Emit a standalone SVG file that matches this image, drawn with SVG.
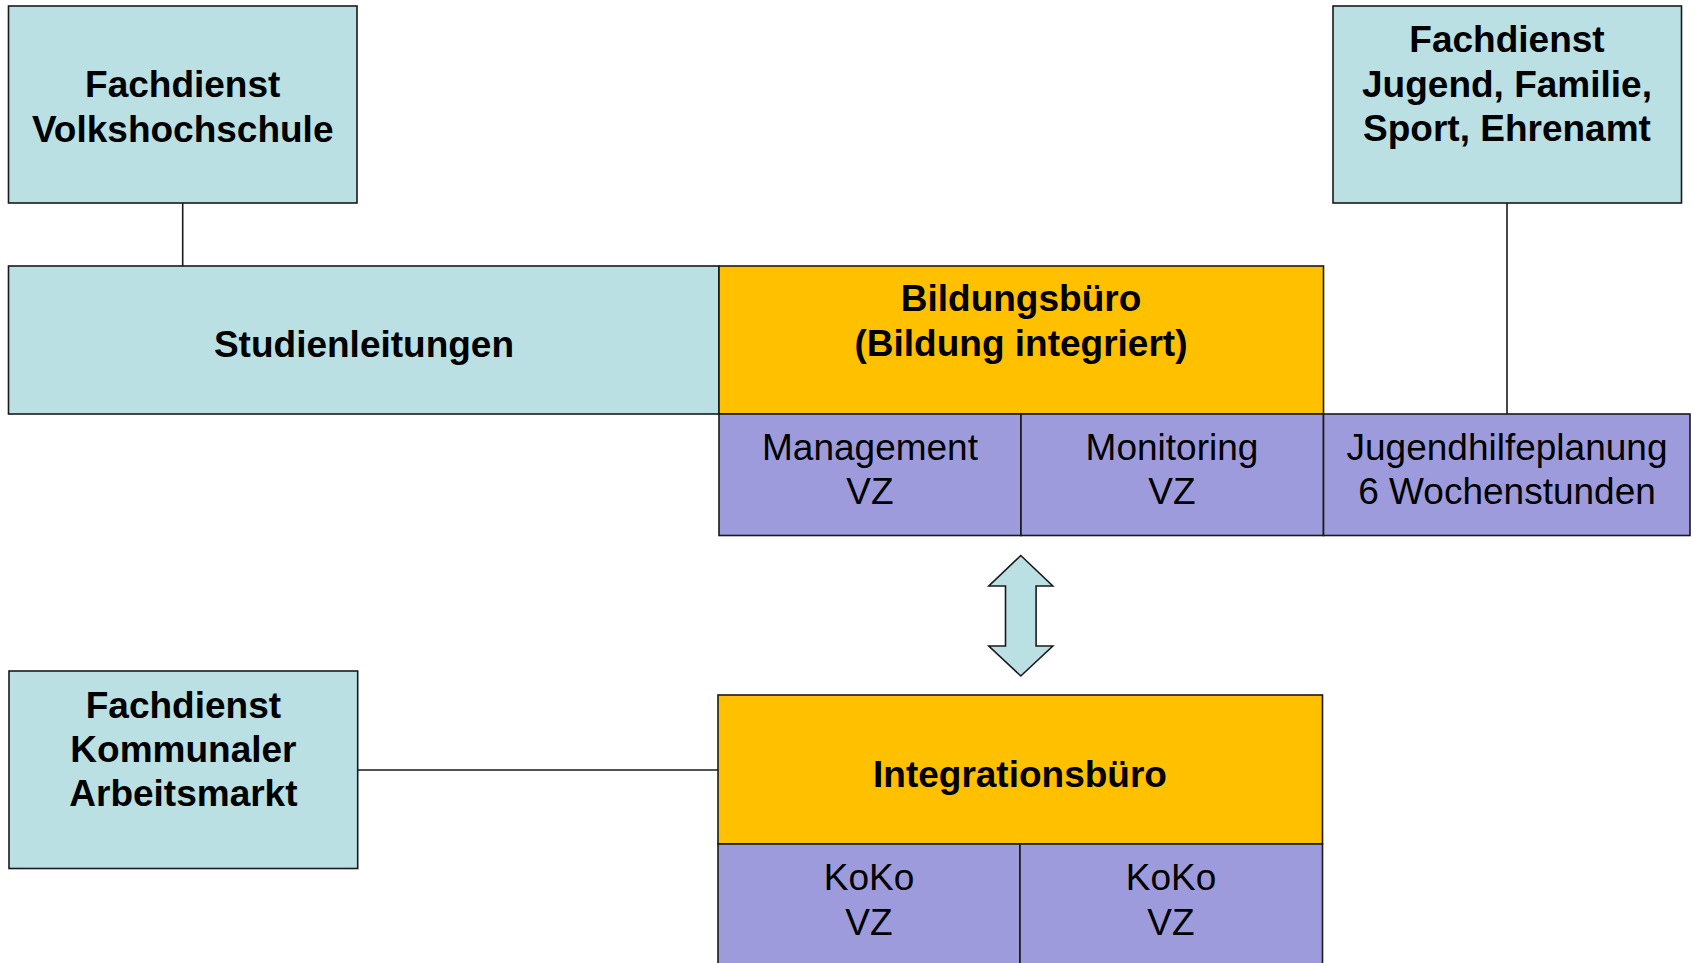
<svg xmlns="http://www.w3.org/2000/svg" width="1694" height="963" viewBox="0 0 1694 963">
<style>
.teal{fill:#BAE0E3;stroke:#1a1a1a;stroke-width:1.6}
.gold{fill:#FFC000;stroke:#1a1a1a;stroke-width:1.6}
.purp{fill:#9E9BDD;stroke:#1a1a1a;stroke-width:1.6}
.b{font-family:"Liberation Sans",Arial,sans-serif;font-weight:bold;font-size:37px;fill:#000;text-anchor:middle}
.r{font-family:"Liberation Sans",Arial,sans-serif;font-size:37px;fill:#000;text-anchor:middle}
.ln{stroke:#1a1a1a;stroke-width:1.6;fill:none}
</style>
<rect width="1694" height="963" fill="#fff"/>
<g id="connectors">
<line class="ln" x1="182.7" y1="203" x2="182.7" y2="266"/>
<line class="ln" x1="1507" y1="203" x2="1507" y2="414"/>
<line class="ln" x1="357.7" y1="770" x2="718" y2="770"/>
<polygon id="double-arrow" points="1020.8,555.5 1052.8,586 1036.1,586 1036.1,646 1052.8,646 1020.8,676 988.8,646 1005.5,646 1005.5,586 988.8,586" fill="#BAE0E3" stroke="#1a1a1a" stroke-width="1.6"/>
</g>
<g id="fd-vhs">
<rect class="teal" x="8.5" y="6" width="348.5" height="197"/>
<text class="b" x="182.7" y="97.3">Fachdienst</text>
<text class="b" x="182.7" y="142.3">Volkshochschule</text>
</g>
<g id="fd-jugend">
<rect class="teal" x="1333" y="6" width="348.5" height="197"/>
<text class="b" x="1507" y="52">Fachdienst</text>
<text class="b" x="1507" y="96.5">Jugend, Familie,</text>
<text class="b" x="1507" y="141">Sport, Ehrenamt</text>
</g>
<g id="studienleitungen">
<rect class="teal" x="8.5" y="266" width="710.5" height="148"/>
<text class="b" x="364" y="356.7">Studienleitungen</text>
</g>
<g id="bildungsbuero">
<rect class="gold" x="719" y="266" width="604.5" height="148"/>
<text class="b" x="1021" y="311">Bildungsbüro</text>
<text class="b" x="1021" y="356">(Bildung integriert)</text>
</g>
<g id="management">
<rect class="purp" x="719" y="414" width="302" height="121.5"/>
<text class="r" x="870" y="460">Management</text>
<text class="r" x="870" y="504.3">VZ</text>
</g>
<g id="monitoring">
<rect class="purp" x="1021" y="414" width="302.5" height="121.5"/>
<text class="r" x="1172" y="460">Monitoring</text>
<text class="r" x="1172" y="504.3">VZ</text>
</g>
<g id="jugendhilfeplanung">
<rect class="purp" x="1323.5" y="414" width="366.5" height="121.5"/>
<text class="r" x="1507" y="460">Jugendhilfeplanung</text>
<text class="r" x="1507" y="504.3">6 Wochenstunden</text>
</g>
<g id="fd-arbeitsmarkt">
<rect class="teal" x="9" y="671" width="348.7" height="197.5"/>
<text class="b" x="183.4" y="717.7">Fachdienst</text>
<text class="b" x="183.4" y="762">Kommunaler</text>
<text class="b" x="183.4" y="806">Arbeitsmarkt</text>
</g>
<g id="integrationsbuero">
<rect class="gold" x="718" y="695" width="604.5" height="149"/>
<text class="b" x="1020" y="786.7">Integrationsbüro</text>
</g>
<g id="koko1">
<rect class="purp" x="718" y="844" width="302" height="130"/>
<text class="r" x="869" y="890.3">KoKo</text>
<text class="r" x="869" y="934.5">VZ</text>
</g>
<g id="koko2">
<rect class="purp" x="1020" y="844" width="302.5" height="130"/>
<text class="r" x="1171" y="890.3">KoKo</text>
<text class="r" x="1171" y="934.5">VZ</text>
</g>
</svg>
